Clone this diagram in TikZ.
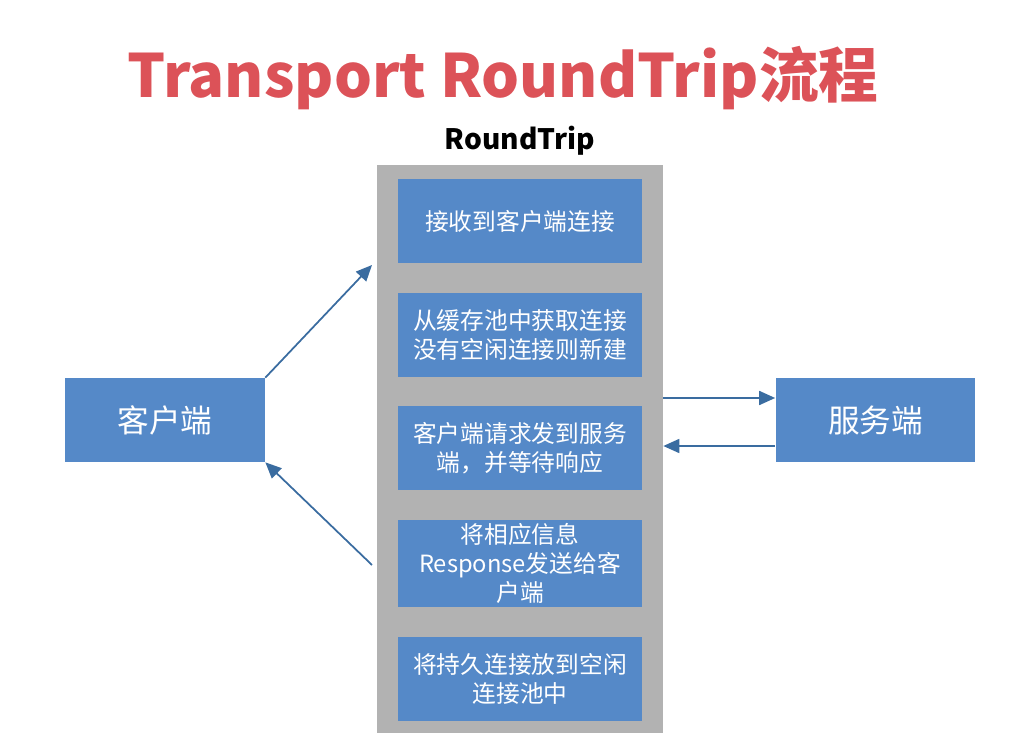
\documentclass[tikz,border=0pt]{standalone}
\usepackage{fontspec}
\setmainfont{Noto Sans CJK SC}
\usepackage{tikz}
\usetikzlibrary{positioning, arrows.meta, calc}
\definecolor{boxblue}{RGB}{85,137,200}
\definecolor{rtgray}{RGB}{178,178,178}
\definecolor{titlered}{RGB}{220,82,88}
\definecolor{arrblue}{RGB}{58,108,160}

\begin{document}
\begin{tikzpicture}[
        x=0.02cm, y=-0.02cm,
        node distance=0.58cm,
        stepbox/.style={fill=boxblue, text=white, minimum width=4.88cm, minimum height=1.68cm, align=center, inner sep=2pt, font=\fontsize{13.5}{16.5}\selectfont},
        endbox/.style={fill=boxblue, text=white, minimum width=4cm, minimum height=1.68cm, font=\fontsize{18}{20}\selectfont},
        arr/.style={-{Triangle[length=3.2mm, width=2.8mm]}, arrblue, line width=1pt},
    ]
    \useasboundingbox (0,0) rectangle (1034,746);

    % Title
    \node[titlered, font=\fontsize{34}{38}\selectfont\bfseries] (title) at (503,78) {Transport RoundTrip流程};
    \node[font=\fontsize{16}{18}\selectfont\bfseries] (rtlbl) at (520,141) {RoundTrip};

    % RoundTrip frame
    \node[fill=rtgray, minimum width=5.72cm, minimum height=11.36cm, inner sep=0pt] (rt) at (520,449) {};

    % Steps
    \node[stepbox] (s1) at (520,221) {接收到客户端连接};
    \node[stepbox, below=of s1] (s2) {从缓存池中获取连接\\没有空闲连接则新建};
    \node[stepbox, below=of s2] (s3) {客户端请求发到服务\\端，并等待响应};
    \node[stepbox, below=of s3] (s4) {将相应信息\\Response发送给客\\户端};
    \node[stepbox, below=of s4] (s5) {将持久连接放到空闲\\连接池中};

    % Client and server
    \node[endbox] (client) at (165,420) {客户端};
    \node[endbox] (server) at (875.5,420) {服务端};

    % Arrow ends on the frame
    \coordinate (rtin) at (372,265);
    \coordinate (rtout) at (372,565);
    \coordinate (rtsend) at ($(rt.east)+(0,-51)$);
    \coordinate (rtrecv) at ($(rt.east)+(0,-3)$);

    \draw[arr] (client.north east) -- (rtin);
    \draw[arr] (rtout) -- (client.south east);
    \draw[arr] (rtsend) -- (rtsend -| server.west);
    \draw[arr] (rtrecv -| server.west) -- (rtrecv);

    \end{tikzpicture}
\end{document}
